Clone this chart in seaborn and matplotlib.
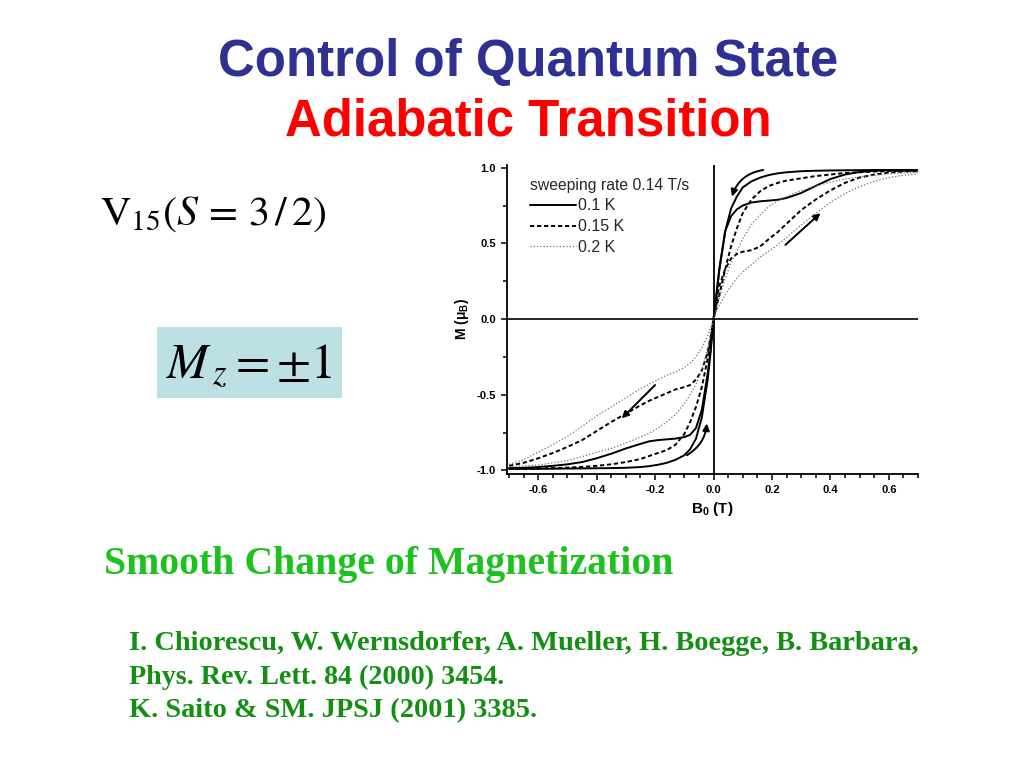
import numpy as np
import pandas as pd
import matplotlib
matplotlib.use("Agg")
import matplotlib.pyplot as plt
from matplotlib.lines import Line2D
from matplotlib.patches import Rectangle
import seaborn as sns

# ---------------- data ----------------
field_T = [-0.70, -0.65, -0.60, -0.55, -0.50, -0.45, -0.40, -0.35, -0.30, -0.25,
           -0.22, -0.19, -0.16, -0.13, -0.10, -0.08, -0.06, -0.04, -0.02, -0.01,
           0.00, 0.01, 0.02, 0.04, 0.06, 0.08, 0.10, 0.13, 0.16, 0.19,
           0.22, 0.25, 0.30, 0.35, 0.40, 0.45, 0.50, 0.55, 0.60, 0.65, 0.70]

m_010_down = [-0.985, -0.983, -0.978, -0.970, -0.960, -0.945, -0.920, -0.890, -0.855, -0.825,
              -0.808, -0.800, -0.795, -0.790, -0.780, -0.765, -0.720, -0.600, -0.360, -0.200,
              0.000, 0.170, 0.330, 0.580, 0.730, 0.810, 0.870, 0.910, 0.935, 0.952,
              0.963, 0.970, 0.977, 0.980, 0.982, 0.983, 0.984, 0.985, 0.985, 0.985, 0.985]
m_010_up = [-0.990, -0.990, -0.990, -0.989, -0.988, -0.987, -0.986, -0.985, -0.983, -0.978,
            -0.972, -0.963, -0.950, -0.930, -0.900, -0.860, -0.790, -0.650, -0.400, -0.220,
            0.000, 0.150, 0.330, 0.580, 0.680, 0.725, 0.750, 0.770, 0.778, 0.783,
            0.788, 0.800, 0.833, 0.880, 0.925, 0.955, 0.972, 0.980, 0.983, 0.985, 0.985]
m_015_down = [-0.970, -0.950, -0.920, -0.885, -0.845, -0.800, -0.740, -0.680, -0.625, -0.570,
              -0.540, -0.515, -0.490, -0.465, -0.450, -0.436, -0.400, -0.340, -0.220, -0.120,
              0.000, 0.080, 0.160, 0.330, 0.480, 0.600, 0.700, 0.790, 0.845, 0.880,
              0.900, 0.915, 0.930, 0.945, 0.955, 0.965, 0.970, 0.975, 0.978, 0.980, 0.980]
m_015_up = [-0.990, -0.990, -0.988, -0.985, -0.982, -0.977, -0.970, -0.960, -0.945, -0.925,
            -0.905, -0.885, -0.866, -0.830, -0.760, -0.680, -0.580, -0.450, -0.260, -0.140,
            0.000, 0.120, 0.220, 0.330, 0.400, 0.430, 0.445, 0.455, 0.480, 0.530,
            0.575, 0.630, 0.720, 0.790, 0.850, 0.900, 0.935, 0.955, 0.968, 0.975, 0.978]
m_020_down = [-0.960, -0.930, -0.880, -0.830, -0.775, -0.710, -0.640, -0.580, -0.520, -0.460,
              -0.430, -0.400, -0.370, -0.350, -0.320, -0.290, -0.250, -0.190, -0.110, -0.060,
              0.000, 0.070, 0.140, 0.270, 0.370, 0.450, 0.530, 0.625, 0.690, 0.745,
              0.780, 0.810, 0.850, 0.880, 0.905, 0.925, 0.940, 0.950, 0.960, 0.965, 0.970]
m_020_up = [-0.975, -0.970, -0.965, -0.950, -0.935, -0.910, -0.880, -0.855, -0.820, -0.780,
            -0.755, -0.720, -0.680, -0.630, -0.560, -0.500, -0.430, -0.340, -0.190, -0.100,
            0.000, 0.050, 0.090, 0.160, 0.220, 0.270, 0.310, 0.360, 0.410, 0.450,
            0.490, 0.540, 0.620, 0.700, 0.770, 0.830, 0.875, 0.910, 0.935, 0.950, 0.960]

temperatures = ["0.1 K", "0.15 K", "0.2 K"]
legend_title = "sweeping rate 0.14 T/s"

# sweep-direction arrows: (tail B, tail M, head B, head M, curvature)
arrows = [(0.170, 0.985, 0.063, 0.810, 0.30),
          (0.246, 0.490, 0.366, 0.700, 0.0),
          (-0.200, -0.436, -0.314, -0.656, 0.0),
          (-0.091, -0.900, -0.023, -0.690, 0.25)]

# ---------------- build table ----------------
branches = {("0.1 K", "down"): m_010_down, ("0.1 K", "up"): m_010_up,
            ("0.15 K", "down"): m_015_down, ("0.15 K", "up"): m_015_up,
            ("0.2 K", "down"): m_020_down, ("0.2 K", "up"): m_020_up}
rows = []
for (temp, sweep), vals in branches.items():
    for b, m in zip(field_T, vals):
        rows.append({"B": b, "M": m, "T": temp, "sweep": sweep})
df = pd.DataFrame(rows)

# ---------------- style ----------------
sns.set_theme(style="white")
plt.rcParams["font.family"] = ["Liberation Sans", "DejaVu Sans"]
plt.rcParams["axes.unicode_minus"] = False
plt.rcParams["mathtext.fontset"] = "custom"
plt.rcParams["mathtext.rm"] = "Liberation Sans"
plt.rcParams["mathtext.bf"] = "Liberation Sans:bold"
plt.rcParams["mathtext.it"] = "Liberation Sans:italic"

W, H = 1024, 768
fig = plt.figure(figsize=(W / 100, H / 100), dpi=100)
fig.patch.set_facecolor("white")

def fx(px):
    return px / W

def fy(py):
    return 1 - py / H

ax = fig.add_axes([fx(507), fy(474), (918 - 507) / W, (474 - 165) / H])
ax.set_facecolor("white")

styles = {"0.1 K": dict(color="black", lw=1.4, ls="-"),
          "0.15 K": dict(color="black", lw=1.4, ls=(0, (2.2, 1.4))),
          "0.2 K": dict(color="#707070", lw=0.9, ls=(0, (1, 1.6)))}

for (temp, sweep), sub in df.groupby(["T", "sweep"], sort=False):
    st = styles[temp]
    sns.lineplot(data=sub, x="B", y="M", ax=ax, sort=False, estimator=None,
                 color=st["color"], linewidth=st["lw"], linestyle=st["ls"])

ax.axhline(0, color="black", lw=1.2, zorder=1)
ax.axvline(0, color="black", lw=1.3, zorder=1)

for tb, tm, hb, hm, rad in arrows:
    ax.annotate("", xy=(hb, hm), xytext=(tb, tm),
                arrowprops=dict(arrowstyle="-|>", color="black", lw=1.4,
                                mutation_scale=10, shrinkA=0, shrinkB=0,
                                connectionstyle=f"arc3,rad={rad}"))

ax.set_xlim(-0.707, 0.70)
ax.set_ylim(-1.024, 1.018)
for s in ["top", "right"]:
    ax.spines[s].set_visible(False)
for s in ["left", "bottom"]:
    ax.spines[s].set_color("black")
    ax.spines[s].set_linewidth(1.3)

ax.set_xticks([-0.6, -0.4, -0.2, 0.0, 0.2, 0.4, 0.6])
ax.set_xticklabels(["-0.6", "-0.4", "-0.2", "0.0", "0.2", "0.4", "0.6"])
ax.set_xticks(np.arange(-0.70, 0.701, 0.05), minor=True)
ax.set_yticks([-1.0, -0.5, 0.0, 0.5, 1.0])
ax.set_yticklabels(["-1.0", "-0.5", "0.0", "0.5", "1.0"])
ax.set_yticks([-0.75, -0.25, 0.25, 0.75], minor=True)
ax.tick_params(which="both", direction="out", color="black", width=1.1,
               bottom=True, left=True, labelsize=8, labelcolor="black")
ax.tick_params(which="major", length=4, pad=4)
ax.tick_params(which="minor", length=3)
for lab in ax.get_xticklabels() + ax.get_yticklabels():
    lab.set_fontweight("bold")

ax.set_xlabel(r"B$_\mathbf{0}$ (T)", fontsize=11, fontweight="bold", color="black")
ax.set_ylabel(r"M (μ$_\mathbf{B}$)", fontsize=10, fontweight="bold", color="black")
ax.xaxis.set_label_coords(0.5, -0.085)
ax.yaxis.set_label_coords(-0.088, 0.5)
ax.grid(False)

handles = [Line2D([], [], color=styles[t]["color"], lw=styles[t]["lw"],
                  ls=styles[t]["ls"]) for t in temperatures]
leg = ax.legend(handles, temperatures, title=legend_title, loc="upper left",
                bbox_to_anchor=(0.032, 0.99), frameon=False, fontsize=11.5,
                title_fontsize=11.3, handlelength=2.9, handletextpad=0.15,
                labelspacing=0.36, borderaxespad=0.2, alignment="left")

# ---------------- slide texts ----------------
def place(x, y, s, target_w=None, **kw):
    t = fig.text(fx(x), fy(y), s, va="baseline", **kw)
    if target_w is not None:
        r = fig.canvas.get_renderer()
        w = t.get_window_extent(r).width
        t.set_fontsize(t.get_fontsize() * target_w / w)
    return t

place(528, 76, "Control of Quantum State", ha="center", fontsize=34,
      fontweight="bold", color="#2e3192", target_w=620)
place(528, 136, "Adiabatic Transition", ha="center", fontsize=34,
      fontweight="bold", color="#ff0000", target_w=487)

place(100, 225, r"$\mathrm{V}_{15}(S\,=\,3\,/\,2)$", fontsize=30,
      color="black", math_fontfamily="stix", target_w=226)

fig.patches.append(Rectangle((fx(157), fy(398)), (342 - 157) / W, (398 - 327) / H,
                             transform=fig.transFigure, facecolor="#bce0e4",
                             edgecolor="none", zorder=0))
place(166, 378, r"$M_{\,z} = \pm1$", fontsize=36, color="black",
      math_fontfamily="stix", target_w=166)

serif = ["Liberation Serif", "DejaVu Serif"]
green_dark = "#138f13"
place(104, 574, "Smooth Change of Magnetization", fontsize=27, fontweight="bold",
      color="#1ec21e", family=serif, target_w=568)
place(129, 650, "I. Chiorescu, W. Wernsdorfer, A. Mueller, H. Boegge, B. Barbara,",
      fontsize=18, fontweight="bold", color=green_dark, family=serif, target_w=789)
place(129, 684, "Phys. Rev. Lett. 84 (2000) 3454.", fontsize=18, fontweight="bold",
      color=green_dark, family=serif, target_w=377)
place(129, 717, "K. Saito & SM. JPSJ (2001) 3385.", fontsize=18, fontweight="bold",
      color=green_dark, family=serif, target_w=408)

fig.savefig("out.png", dpi=100)
